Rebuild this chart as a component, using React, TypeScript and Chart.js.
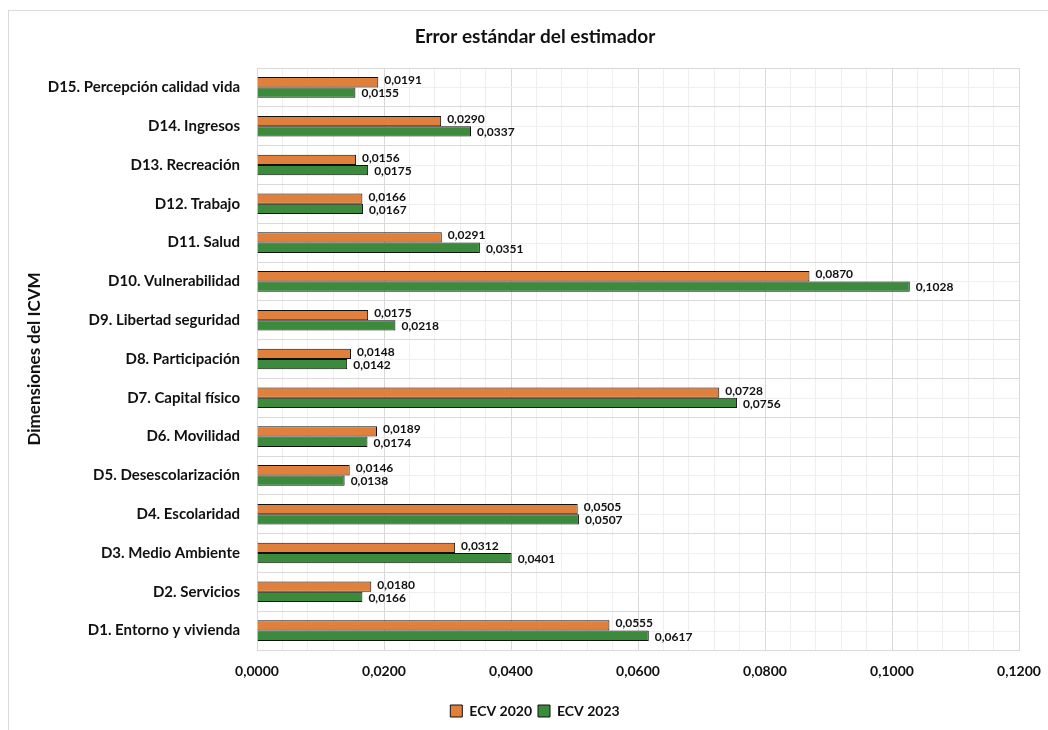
import React, { useEffect, useRef } from 'react';
import { Chart, registerables } from 'chart.js';

Chart.register(...registerables);

const categories = [
  'D15. Percepción calidad vida',
  'D14. Ingresos',
  'D13. Recreación',
  'D12. Trabajo',
  'D11. Salud',
  'D10. Vulnerabilidad',
  'D9. Libertad seguridad',
  'D8. Participación',
  'D7. Capital físico',
  'D6. Movilidad',
  'D5. Desescolarización',
  'D4. Escolaridad',
  'D3. Medio Ambiente',
  'D2. Servicios',
  'D1. Entorno y vivienda',
];

const ecv2020 = [0.0191, 0.029, 0.0156, 0.0166, 0.0291, 0.087, 0.0175, 0.0148, 0.0728, 0.0189, 0.0146, 0.0505, 0.0312, 0.018, 0.0555];
const ecv2023 = [0.0155, 0.0337, 0.0175, 0.0167, 0.0351, 0.1028, 0.0218, 0.0142, 0.0756, 0.0174, 0.0138, 0.0507, 0.0401, 0.0166, 0.0617];

const seriesNames = ['ECV 2020', 'ECV 2023'];
const chartTitle = 'Error estándar del estimador';
const yAxisTitle = 'Dimensiones del ICVM';
const xMin = 0;
const xMax = 0.12;
const xMinorStep = 0.004;
const minorPerMajor = 5;

const FONT = 'Lato, "Noto Sans", sans-serif';
const fmt = (v: number) => v.toFixed(4).replace('.', ',');

const rowCenterLines = {
  id: 'rowCenterLines',
  beforeDatasetsDraw(chart: any) {
    const { ctx, chartArea } = chart;
    const y = chart.scales.y;
    ctx.save();
    ctx.strokeStyle = '#efefef';
    ctx.lineWidth = 1;
    for (let i = 0; i < categories.length; i++) {
      const py = Math.round(y.getPixelForValue(i)) + 0.5;
      ctx.beginPath();
      ctx.moveTo(chartArea.left, py);
      ctx.lineTo(chartArea.right, py);
      ctx.stroke();
    }
    ctx.restore();
  },
};

const barLabels = {
  id: 'barLabels',
  afterDatasetsDraw(chart: any) {
    const { ctx } = chart;
    ctx.save();
    ctx.font = `bold 12px ${FONT}`;
    ctx.fillStyle = '#111111';
    ctx.textAlign = 'left';
    ctx.textBaseline = 'middle';
    chart.data.datasets.forEach((ds: any, di: number) => {
      const meta = chart.getDatasetMeta(di);
      meta.data.forEach((el: any, i: number) => {
        const dy = di === 0 ? -2 : 1;
        ctx.fillText(fmt(ds.data[i]), el.x + 6, el.y + dy);
      });
    });
    ctx.restore();
  },
};

export default function App() {
  const ref = useRef<HTMLCanvasElement | null>(null);

  useEffect(() => {
    if (!ref.current) return;
    const chart = new Chart(ref.current, {
      type: 'bar',
      data: {
        labels: categories,
        datasets: [
          {
            label: seriesNames[0],
            data: ecv2020,
            backgroundColor: '#E0803A',
            borderColor: '#111111',
            borderWidth: 1,
            categoryPercentage: 0.53,
            barPercentage: 1.0,
          },
          {
            label: seriesNames[1],
            data: ecv2023,
            backgroundColor: '#3C8A3C',
            borderColor: '#111111',
            borderWidth: 1,
            categoryPercentage: 0.53,
            barPercentage: 1.0,
          },
        ],
      },
      options: {
        indexAxis: 'y',
        animation: false,
        responsive: true,
        maintainAspectRatio: false,
        layout: { padding: { left: 13, right: 0, top: 0, bottom: 2 } },
        scales: {
          x: {
            type: 'linear',
            min: xMin,
            max: xMax,
            ticks: {
              stepSize: xMinorStep,
              autoSkip: false,
              maxRotation: 0,
              padding: 13,
              color: '#111111',
              font: { family: FONT, size: 14, weight: 'bold' },
              callback: (v: any, idx: number) => (idx % minorPerMajor === 0 ? fmt(Number(v)) : ''),
            },
            grid: {
              drawTicks: false,
              color: (c: any) => (c.index % minorPerMajor === 0 ? '#d9d9d9' : '#efefef'),
            },
            border: { display: true, color: '#d9d9d9' },
            afterFit: (s: any) => {
              s.height = 48;
              s.paddingLeft = 0;
              s.paddingRight = 29;
            },
          },
          y: {
            type: 'category',
            ticks: {
              padding: 17,
              color: '#111111',
              font: { family: FONT, size: 15, weight: 'bold' },
            },
            grid: { drawTicks: false, color: '#d9d9d9' },
            border: { display: true, color: '#d9d9d9' },
            title: {
              display: true,
              text: yAxisTitle,
              color: '#111111',
              font: { family: FONT, size: 17, weight: 'bold' },
              padding: { top: 2.8, bottom: 0 },
            },
            afterFit: (s: any) => {
              s.width = 235;
              s.paddingTop = 0;
              s.paddingBottom = 0;
            },
          },
        },
        plugins: {
          title: {
            display: true,
            text: chartTitle,
            color: '#111111',
            font: { family: FONT, size: 19, weight: 'bold' },
            padding: { top: 14.6, bottom: 19.6 },
          },
          legend: {
            position: 'bottom',
            labels: {
              boxWidth: 12,
              boxHeight: 12,
              padding: 6,
              color: '#111111',
              font: { family: FONT, size: 14, weight: 'bold' },
            },
          },
          tooltip: { enabled: false },
        },
      },
      plugins: [rowCenterLines, barLabels],
    });
    return () => chart.destroy();
  }, []);

  return (
    <div>
      <div
        style={{
          position: 'absolute',
          left: 8,
          top: 10,
          width: 1040,
          height: 720,
          boxSizing: 'border-box',
          borderLeft: '1px solid #d9d9d9',
          borderTop: '1px solid #d9d9d9',
        }}
      />
      <div style={{ position: 'absolute', left: 9, top: 11, width: 1039, height: 719 }}>
        <canvas ref={ref} />
      </div>
    </div>
  );
}
